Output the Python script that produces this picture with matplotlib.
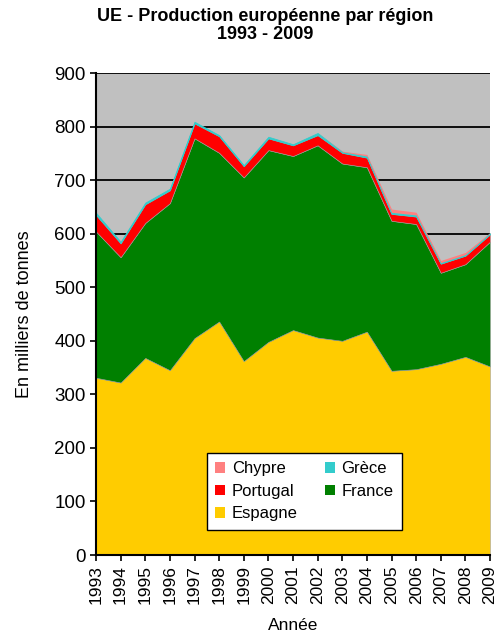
import matplotlib.pyplot as plt
import numpy as np
from matplotlib.patches import Patch

plt.rcParams['font.family'] = ['Liberation Sans', 'DejaVu Sans']

years = list(range(1993, 2010))
espagne = [331, 322, 368, 345, 405, 436, 362, 398, 420, 406, 400, 417, 344, 347, 357, 370, 352]
france = [273, 234, 252, 312, 373, 315, 343, 358, 325, 359, 331, 307, 280, 271, 170, 173, 233]
portugal = [31, 26, 35, 24, 28, 31, 21, 22, 20, 19, 20, 18, 13, 14, 17, 16, 14]
grece = [4, 3, 3, 3, 3, 2, 2, 3, 2, 4, 2, 3, 3, 3, 2, 2, 2]
chypre = [0, 0, 0, 0, 0, 0, 0, 0, 0, 0, 1, 3, 6, 5, 4, 4, 1]

names = ['Espagne', 'France', 'Portugal', 'Grèce', 'Chypre']
colors = ['#FFCC00', '#008000', '#FF0000', '#33CCCC', '#FF8080']

fig = plt.figure(figsize=(5.01, 6.38), dpi=100)
ax = fig.add_axes([96 / 501, 1 - 555 / 638, 394 / 501, 482 / 638])
ax.set_facecolor('#C0C0C0')

polys = ax.stackplot(years, espagne, france, portugal, grece, chypre,
                     colors=colors, edgecolor='#A0A0A0', linewidth=0.4, zorder=2)
# thin bands: Grèce outlined in its own colour, Chypre without outline
polys[3].set_edgecolor(colors[3])
polys[3].set_linewidth(0.6)
polys[4].set_linewidth(0)

ax.set_xlim(1993, 2009)
ax.set_ylim(0, 900)
ax.set_yticks(range(0, 901, 100))
ax.set_xticks(years)
ax.set_xticklabels([str(y) for y in years], rotation=90, fontsize=12.5)
ax.tick_params(axis='y', labelsize=13.5, direction='out', length=4, width=1.2)
ax.tick_params(axis='x', direction='out', length=4, width=1.2)
ax.yaxis.grid(True, color='black', linewidth=1.3, zorder=1)
ax.set_axisbelow(True)
for s in ['top', 'right']:
    ax.spines[s].set_visible(False)
for s in ['left', 'bottom']:
    ax.spines[s].set_linewidth(1.5)
    ax.spines[s].set_zorder(3)

ax.set_ylabel('En milliers de tonnes', fontsize=13, labelpad=15)
ax.set_xlabel('Année', fontsize=12.5, labelpad=10)

fig.suptitle('UE - Production européenne par région\n1993 - 2009',
             fontsize=13, fontweight='bold', x=265 / 501, y=1 - 8 / 638, va='top',
             linespacing=1.1)

# legend: row-major order Chypre, Grèce / Portugal, France / Espagne
order = [4, 2, 0, 3, 1]
handles = [Patch(facecolor=colors[i], edgecolor='none') for i in order]
labels = [names[i] for i in order]
leg = fig.legend(handles, labels, ncol=2, loc='upper left',
                 bbox_to_anchor=(207 / 501, 1 - 453 / 638), borderaxespad=0,
                 fontsize=12, frameon=True, fancybox=False, edgecolor='black',
                 framealpha=1, handlelength=0.6, handleheight=0.6, handletextpad=0.4,
                 columnspacing=1.6, labelspacing=0.45, borderpad=0.5)
leg.get_frame().set_linewidth(1.0)

fig.savefig('out.png', dpi=100)
